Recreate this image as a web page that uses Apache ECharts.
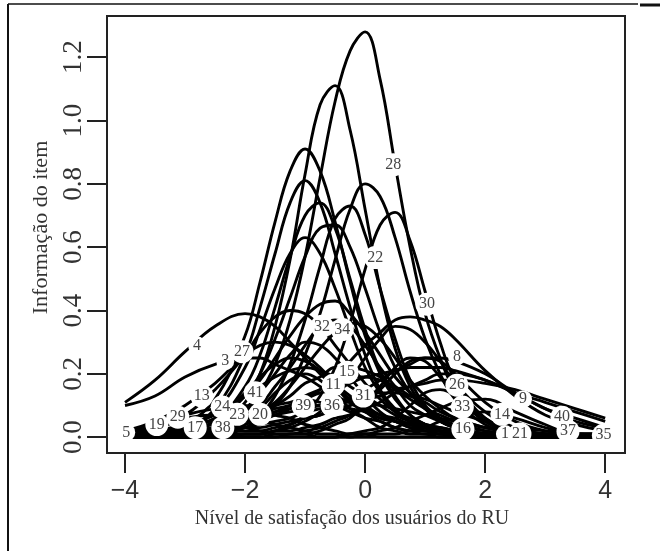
<!DOCTYPE html>
<html>
<head>
<meta charset="utf-8">
<script src="https://cdn.jsdelivr.net/npm/echarts@6/dist/echarts.min.js"></script>
<style>html,body{margin:0;padding:0;background:#fff;}#c{width:660px;height:551px;}</style>
</head>
<body>
<div id="c"></div>
<script>
// ability grid (theta) on which each item information curve was read
const theta = [-4,-3.5,-3,-2.5,-2,-1.75,-1.5,-1.25,-1,-0.75,-0.5,-0.25,0,0.25,0.5,0.75,1,1.25,1.5,2,2.5,3,3.5,4];

// tall, peaked items
const tallCurves = [
  [0,0,0.01,0.03,0.08,0.14,0.23,0.37,0.57,0.82,1.06,1.22,1.28,1.13,0.86,0.60,0.39,0.25,0.15,0.06,0.02,0.01,0,0],
  [0,0,0.01,0.03,0.11,0.20,0.35,0.56,0.83,1.05,1.11,0.97,0.72,0.47,0.28,0.16,0.09,0.05,0.03,0.01,0,0,0,0],
  [0,0.01,0.04,0.12,0.32,0.49,0.68,0.84,0.91,0.84,0.68,0.49,0.32,0.20,0.12,0.07,0.04,0.02,0.01,0,0,0,0,0],
  [0,0.01,0.03,0.09,0.26,0.41,0.58,0.74,0.81,0.74,0.58,0.41,0.26,0.15,0.09,0.05,0.03,0.02,0.01,0,0,0,0,0],
  [0,0,0,0.01,0.03,0.06,0.10,0.16,0.26,0.39,0.56,0.72,0.80,0.76,0.63,0.46,0.31,0.20,0.12,0.04,0.01,0,0,0],
  [0,0,0,0,0.01,0.01,0.02,0.04,0.07,0.13,0.22,0.36,0.53,0.67,0.71,0.62,0.46,0.30,0.18,0.06,0.02,0,0,0],
  [0,0.01,0.02,0.05,0.16,0.26,0.41,0.57,0.70,0.74,0.66,0.50,0.34,0.21,0.13,0.07,0.04,0.02,0.01,0,0,0,0,0],
  [0,0,0,0.01,0.04,0.07,0.13,0.23,0.37,0.54,0.69,0.73,0.64,0.47,0.31,0.18,0.10,0.06,0.03,0.01,0,0,0,0],
  [0,0.01,0.03,0.08,0.22,0.34,0.47,0.58,0.63,0.58,0.47,0.34,0.22,0.14,0.08,0.05,0.03,0.01,0.01,0,0,0,0,0],
  [0,0.01,0.02,0.05,0.13,0.20,0.31,0.44,0.57,0.66,0.67,0.60,0.47,0.33,0.22,0.14,0.09,0.05,0.03,0.01,0,0,0,0]
];

// medium, broad items
const midCurves = [
  [0,0.01,0.03,0.06,0.13,0.18,0.25,0.32,0.38,0.42,0.43,0.39,0.33,0.26,0.19,0.14,0.09,0.06,0.04,0.02,0.01,0,0,0],
  [0.11,0.18,0.27,0.35,0.39,0.38,0.35,0.30,0.25,0.20,0.16,0.12,0.09,0.06,0.05,0.03,0.02,0.02,0.01,0.01,0,0,0,0],
  [0.01,0.03,0.07,0.15,0.26,0.33,0.38,0.40,0.39,0.35,0.29,0.23,0.17,0.12,0.08,0.06,0.04,0.03,0.02,0.01,0,0,0,0],
  [0,0,0.01,0.02,0.03,0.05,0.07,0.09,0.12,0.15,0.19,0.24,0.29,0.33,0.37,0.38,0.37,0.35,0.31,0.21,0.13,0.07,0.04,0.02],
  [0.10,0.13,0.19,0.23,0.25,0.25,0.23,0.21,0.19,0.16,0.13,0.11,0.09,0.07,0.06,0.04,0.03,0.03,0.02,0.01,0.01,0,0,0],
  [0,0,0.01,0.03,0.07,0.10,0.16,0.22,0.29,0.35,0.37,0.35,0.29,0.22,0.16,0.10,0.07,0.05,0.03,0.01,0,0,0,0],
  [0,0,0.01,0.02,0.05,0.08,0.11,0.16,0.22,0.28,0.33,0.36,0.35,0.31,0.25,0.18,0.13,0.09,0.06,0.03,0.01,0,0,0],
  [0.01,0.02,0.03,0.04,0.06,0.07,0.09,0.10,0.12,0.14,0.15,0.17,0.19,0.20,0.21,0.22,0.22,0.22,0.21,0.18,0.14,0.11,0.08,0.05]
];

// low, flat items
const lowCurves = [
  [0,0.01,0.01,0.03,0.06,0.08,0.10,0.13,0.17,0.19,0.22,0.22,0.21,0.19,0.15,0.12,0.09,0.07,0.05,0.02,0.01,0.01,0,0],
  [0,0.01,0.01,0.02,0.04,0.06,0.08,0.10,0.13,0.15,0.17,0.19,0.19,0.18,0.16,0.13,0.11,0.08,0.06,0.03,0.02,0.01,0,0],
  [0,0,0.01,0.02,0.03,0.04,0.05,0.06,0.08,0.09,0.11,0.12,0.14,0.14,0.14,0.13,0.12,0.10,0.08,0.05,0.03,0.02,0.01,0.01],
  [0.01,0.01,0.02,0.03,0.05,0.06,0.07,0.08,0.09,0.10,0.11,0.11,0.11,0.10,0.09,0.08,0.07,0.06,0.05,0.03,0.02,0.01,0.01,0],
  [0.01,0.01,0.02,0.03,0.06,0.07,0.08,0.09,0.10,0.10,0.10,0.09,0.08,0.06,0.05,0.04,0.03,0.02,0.02,0.01,0,0,0,0],
  [0.01,0.02,0.04,0.07,0.13,0.16,0.19,0.21,0.22,0.21,0.19,0.16,0.13,0.10,0.07,0.05,0.04,0.03,0.02,0.01,0,0,0,0],
  [0,0.01,0.02,0.03,0.06,0.08,0.10,0.11,0.12,0.11,0.10,0.08,0.06,0.05,0.03,0.02,0.02,0.01,0.01,0,0,0,0,0],
  [0.02,0.05,0.10,0.17,0.26,0.29,0.30,0.29,0.26,0.22,0.17,0.13,0.10,0.07,0.05,0.04,0.02,0.02,0.01,0,0,0,0,0],
  [0,0.01,0.03,0.06,0.14,0.19,0.23,0.25,0.24,0.21,0.16,0.11,0.08,0.05,0.03,0.02,0.01,0.01,0,0,0,0,0,0],
  [0,0,0.01,0.03,0.09,0.14,0.20,0.26,0.30,0.29,0.25,0.19,0.13,0.08,0.05,0.03,0.02,0.01,0.01,0,0,0,0,0],
  [0,0,0.01,0.02,0.06,0.09,0.14,0.18,0.20,0.18,0.14,0.09,0.06,0.03,0.02,0.01,0.01,0,0,0,0,0,0,0],
  [0.02,0.04,0.07,0.09,0.10,0.09,0.07,0.06,0.04,0.03,0.02,0.01,0.01,0,0,0,0,0,0,0,0,0,0,0],
  [0.02,0.04,0.06,0.07,0.06,0.05,0.04,0.03,0.02,0.01,0.01,0,0,0,0,0,0,0,0,0,0,0,0,0],
  [0.02,0.03,0.05,0.05,0.03,0.02,0.01,0.01,0.01,0,0,0,0,0,0,0,0,0,0,0,0,0,0,0],
  [0,0,0,0,0.01,0.01,0.02,0.03,0.05,0.08,0.13,0.18,0.25,0.31,0.35,0.34,0.30,0.24,0.17,0.08,0.03,0.01,0,0],
  [0,0,0,0,0,0,0.01,0.01,0.02,0.03,0.05,0.07,0.11,0.15,0.20,0.24,0.25,0.24,0.20,0.11,0.05,0.02,0.01,0],
  [0,0,0.01,0.01,0.02,0.02,0.03,0.04,0.06,0.07,0.10,0.12,0.15,0.18,0.21,0.23,0.25,0.25,0.24,0.20,0.14,0.09,0.05,0.03],
  [0,0,0,0.01,0.01,0.01,0.02,0.02,0.03,0.04,0.06,0.07,0.09,0.11,0.14,0.16,0.18,0.20,0.20,0.18,0.14,0.09,0.06,0.03]
];

// items informative at high satisfaction
const highCurves = [
  [0,0,0,0,0,0,0,0,0,0,0,0.01,0.01,0.02,0.03,0.05,0.07,0.09,0.11,0.12,0.08,0.04,0.01,0.01],
  [0,0,0,0,0,0,0,0,0,0,0,0,0.01,0.01,0.01,0.02,0.03,0.05,0.06,0.08,0.06,0.03,0.01,0.01],
  [0,0,0,0,0,0,0,0.01,0.01,0.02,0.04,0.06,0.11,0.16,0.22,0.25,0.24,0.19,0.13,0.05,0.01,0,0,0],
  [0,0,0,0,0,0,0,0,0,0,0,0.01,0.02,0.03,0.06,0.10,0.14,0.15,0.13,0.05,0.01,0,0,0],
  [0,0.01,0.01,0.02,0.03,0.03,0.04,0.05,0.06,0.07,0.09,0.10,0.12,0.13,0.15,0.16,0.17,0.18,0.18,0.17,0.15,0.12,0.09,0.06]
];

// item labels as placed on the curves
const labelText  = ['5','19','29','17','38','13','24','23','20','41','39','36','11','15','31','3','27','4','32','34','30','8','26','33','16','14','1','21','9','40','37','35','28','22'];
const labelTheta = [-3.98,-3.47,-3.12,-2.83,-2.37,-2.72,-2.38,-2.13,-1.75,-1.83,-1.03,-0.55,-0.53,-0.30,-0.03,-2.33,-2.05,-2.80,-0.72,-0.38,1.03,1.53,1.53,1.62,1.63,2.28,2.33,2.58,2.63,3.28,3.38,3.97,0.47,0.17];
const labelInfo  = [0.015,0.040,0.063,0.030,0.030,0.130,0.095,0.072,0.072,0.140,0.098,0.100,0.164,0.205,0.130,0.240,0.270,0.290,0.350,0.340,0.420,0.255,0.164,0.095,0.025,0.072,0.010,0.010,0.120,0.063,0.019,0.006,0.860,0.567];

const xTicks = [-4,-2,0,2,4];
const yTicks = [0,0.2,0.4,0.6,0.8,1.0,1.2];

const chart = echarts.init(document.getElementById('c'), null, {renderer:'canvas'});
const allCurves = [].concat(tallCurves, midCurves, lowCurves, highCurves);
const series = allCurves.map(vals => ({
  type: 'line',
  data: theta.map((t, i) => [t, vals[i]]),
  smooth: 0.4,
  symbol: 'none',
  silent: true,
  lineStyle: {color: '#000', width: 2.9},
  z: 2
}));
series.push({
  type: 'scatter',
  z: 5,
  silent: true,
  symbol: 'circle',
  data: labelText.map((t, i) => ({name: t, value: [labelTheta[i], labelInfo[i]], symbolSize: t.length > 1 ? 23 : 18})),
  itemStyle: {color: '#fff', opacity: 1},
  label: {show: true, position: 'inside', formatter: p => p.name, color: '#444', fontFamily: 'Liberation Serif', fontSize: 16}
});

chart.setOption({
  animation: false,
  backgroundColor: '#fff',
  grid: {left: 107, top: 16, width: 518, height: 437, show: true, borderColor: '#222', borderWidth: 2, backgroundColor: 'transparent'},
  xAxis: {
    type: 'value', min: -4.3, max: 4.33, position: 'bottom',
    name: 'Nível de satisfação dos usuários do RU', nameLocation: 'middle', nameGap: 53,
    nameTextStyle: {fontFamily: 'Liberation Serif', fontSize: 20, color: '#333', padding: [0, 28, 0, 0]},
    axisLine: {show: false, onZero: false},
    splitLine: {show: false},
    axisTick: {show: true, customValues: xTicks, length: 20, lineStyle: {color: '#222', width: 2}},
    axisLabel: {customValues: xTicks, margin: 26, fontFamily: 'Liberation Sans', fontSize: 25, color: '#333',
      formatter: v => (v < 0 ? '\u2212' + (-v) : String(v))}
  },
  yAxis: {
    type: 'value', min: -0.05, max: 1.33, position: 'left',
    name: 'Informação do item', nameLocation: 'middle', nameGap: 55, nameRotate: 90,
    nameTextStyle: {fontFamily: 'Liberation Serif', fontSize: 22, color: '#333', padding: [0, 0, 0, 14]},
    axisLine: {show: false, onZero: false},
    splitLine: {show: false},
    axisTick: {show: true, customValues: yTicks, length: 20, lineStyle: {color: '#222', width: 2}},
    axisLabel: {customValues: yTicks, rotate: 90, margin: 20, fontFamily: 'Liberation Serif', fontSize: 27, color: '#333',
      formatter: v => v.toFixed(1)}
  },
  graphic: [
    {type: 'line', shape: {x1: 8, y1: 4, x2: 638, y2: 4}, style: {stroke: '#111', lineWidth: 1.5}},
    {type: 'line', shape: {x1: 640, y1: 5, x2: 660, y2: 5}, style: {stroke: '#111', lineWidth: 3}},
    {type: 'line', shape: {x1: 8, y1: 4, x2: 8, y2: 551}, style: {stroke: '#111', lineWidth: 2}}
  ],
  series: series
});
</script>
</body>
</html>
